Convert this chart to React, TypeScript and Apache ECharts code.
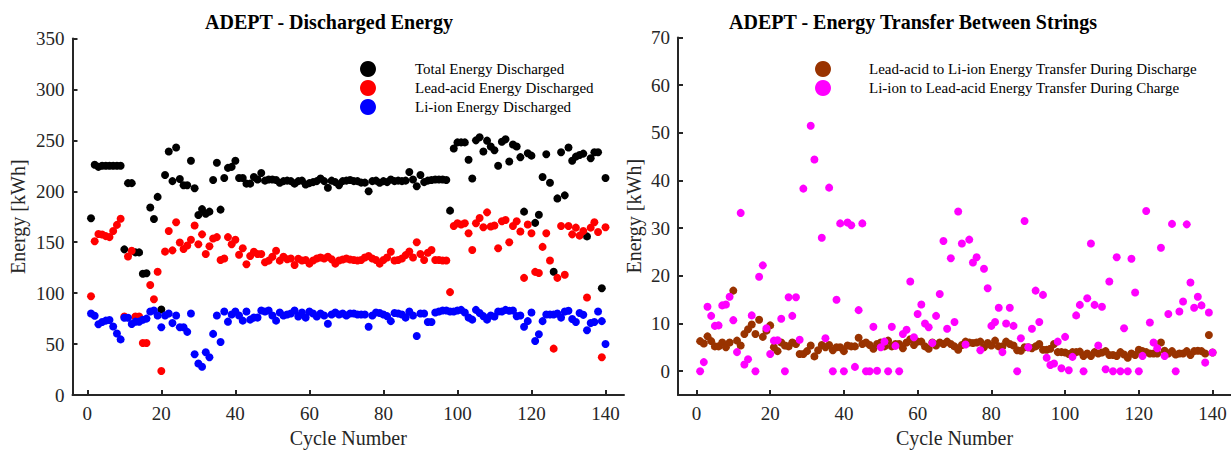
import React, { useEffect, useRef } from "react";
import * as echarts from "echarts";

// Cycle numbers 1..140
const cycles: number[] = Array.from({ length: 140 }, (_, i) => i + 1);

const totalEnergy: (number | null)[] = [
  173.5, 226, 224, 225, 225, 225, 225, 225, 225, 143,
  208, 208, 140, 140, 119, 119.5, 184, 172.8, 194.5, 84,
  216, 239, 210, 243, 212, 206, 206, 230, 203, 176.7,
  182.5, 178, 180, 211, 228, 182, 213, 223, 224, 230,
  213, 213, 207.5, 207.5, 214, 211.5, 218, 210.5, 211.5, 211.5,
  211, 208.3, 210, 210.5, 210, 207.5, 210, 210.5, 206.6, 208,
  209, 210, 212.5, 210, 203.5, 210.5, 209, 206, 210, 210.5,
  211, 210, 210, 208.5, 208.5, 200, 210, 210.5, 208.3, 210,
  209, 211.5, 210, 210.5, 210, 210.5, 219, 211.5, 205, 216,
  209, 210.5, 211, 211.5, 211.5, 211.5, 211, 181, 242, 248,
  248, 248, 231, 212.5, 250, 253, 239, 249.7, 244, 240.3,
  225, 248.6, 251, 229.3, 246, 244, 233.5, 180, 237.3, 235,
  169, 177, 214, 236.3, 208.3, 121, 193, 238.3, 196, 243,
  230, 234, 235.7, 237, 155.7, 232.5, 238.3, 238.3, 104.8, 213,
];

const leadAcidEnergy: (number | null)[] = [
  97, 151, 158, 157.5, 156, 155, 161, 167, 173, 77,
  136, 141.6, 77, 77, 51, 51, 108, 94, 121, 23.6,
  140.8, 161, 142, 169.6, 149.7, 143.4, 146.7, 152.5, 166.4, 148,
  157.7, 138.5, 146, 153.6, 155, 132.5, 134, 155, 148, 152.5,
  137.7, 144, 128.3, 136.4, 140.6, 138.4, 138.4, 130.3, 131.9, 135.8,
  141.6, 131.9, 135.8, 133.2, 134, 127.6, 133.8, 132, 132.5, 129,
  132, 134, 135, 134, 135.8, 133.2, 129, 132, 133, 134,
  133, 132.5, 132, 132.5, 135, 136.4, 134, 132.5, 129, 132.5,
  135, 140.6, 132, 132.5, 134, 137.3, 140.8, 135, 150, 138.4,
  132.5, 139.7, 142.3, 132.5, 132.5, 132, 132, 101, 166, 168.6,
  167.4, 168.6, 158.8, 142.3, 168.6, 173.8, 164.7, 179.3, 165.4, 166.4,
  144, 170.5, 171.8, 150, 166, 170.5, 160.5, 115, 167.4, 158.8,
  120.9, 119.7, 145.4, 158.8, 132, 45.5, 115, 166, 118, 166,
  157.7, 164.3, 156.5, 161, 95.7, 164.3, 169.6, 160, 37, 164.7,
];

const liIonEnergy: (number | null)[] = [
  80, 77.8, 69.4, 71.6, 73, 73.7, 67.3, 60.4, 54.6, 75.8,
  75.8, 69.7, 72, 72, 73.8, 75, 82, 83, 78, 66.5,
  78, 80, 70.6, 78, 66.5, 66.5, 62, 80, 40, 31,
  27.8, 42, 37, 60, 78, 52, 82, 72, 79, 82,
  78, 73, 82, 74, 76, 76, 83, 82, 83, 78,
  73, 81, 78, 79, 80, 83, 77, 81, 76, 82,
  80, 77, 80, 78, 70, 79, 81, 79, 80, 78,
  80, 80, 79, 79, 79, 67, 78, 81, 80.5, 79,
  77.4, 72.5, 80.5, 80, 79, 76, 82, 78, 58, 80,
  80, 71.7, 71.7, 81, 82, 83, 83, 82, 82, 83,
  83.6, 81, 76, 74, 83.6, 80.5, 77.4, 74, 78, 77,
  82, 82, 83.6, 82.7, 83, 77.4, 78, 67, 72.5, 81,
  53, 59.6, 72.5, 79, 79, 79, 80, 76, 82, 82.7,
  74.6, 71.6, 80.5, 78.7, 63.5, 70.6, 71.6, 82, 72.5, 50,
];

const leadToLiTransfer: (number | null)[] = [
  6.3, 5.8, 7.3, 6.3, 5.2, 5.2, 6.0, 5.0, 6.0, 16.9,
  6.4, 5.4, 7.8, 8.8, 9.8, 7.8, 10.8, 7.2, 8.5, 9.6,
  5.0, 4.2, 6.0, 5.4, 5.2, 6.0, 5.7, 3.6, 3.6, 4.2,
  5.4, 3.1, 4.4, 5.5, 5.0, 5.5, 4.4, 5.0, 5.0, 4.2,
  5.4, 5.2, 5.2, 7.0, 5.7, 6.0, 5.5, 4.7, 5.7, 6.0,
  5.2, 6.4, 5.2, 5.7, 5.7, 4.8, 6.0, 6.7, 5.5, 6.2,
  6.2, 5.2, 4.7, 6.0, 5.4, 6.0, 5.7, 6.2, 5.7, 5.2,
  4.5, 5.5, 6.2, 6.0, 5.9, 6.0, 6.2, 5.0, 5.9, 5.4,
  6.4, 5.2, 5.2, 6.2, 5.7, 5.4, 4.4, 4.3, 5.0, 5.0,
  4.8, 5.2, 5.7, 4.5, 4.5, 4.7, 5.7, 4.0, 4.0, 3.9,
  3.6, 4.0, 4.0, 4.1, 3.2, 3.7, 3.2, 4.0, 3.7, 3.9,
  4.2, 3.4, 3.4, 3.2, 4.0, 3.5, 2.8, 3.7, 3.4, 4.5,
  4.2, 4.0, 3.7, 3.7, 3.7, 6.0, 4.3, 3.7, 4.2, 3.5,
  3.7, 3.7, 4.2, 3.4, 4.2, 4.3, 4.2, 3.7, 7.6, 3.9,
];

const liToLeadTransfer: (number | null)[] = [
  0, 1.9, 13.5, 11.6, 9.5, 9.6, 13.8, 14.0, 15.6, 10.7,
  4.0, 33.2, 1.4, 2.5, 11.7, 0, 19.8, 22.2, 9.0, 3.6,
  6.4, 6.5, 11.0, 0, 15.5, 11.6, 15.5, 6.6, 38.3, null,
  51.5, 44.4, null, 28.0, 6.9, 38.5, 0, 15.0, 31.0, 0,
  31.2, 30.6, 0.9, 12.8, 31.0, 0, 0, 9.3, 0.1, 5.0,
  6.2, 0, 9.3, 5.3, 0, 7.8, 8.7, 18.8, 7.1, 12.0,
  14.0, 10.0, 9.2, 5.9, 11.6, 16.2, 27.3, 8.9, 23.7, 10.3,
  33.5, 26.8, 5.6, 27.6, 22.8, 23.9, 4.4, 21.5, 17.4, 9.5,
  10.3, 13.3, 4.0, 10.0, 13.3, 9.5, 0, 6.9, 31.5, 5.0,
  8.9, 16.9, 10.3, 16.0, 2.8, 1.3, 1.6, 6.2, 0.6, 7.2,
  0.2, 3.0, 11.7, 13.9, 0, 15.3, 26.8, 13.9, 5.4, 13.5,
  0.4, 18.8, 0, 23.9, 0, 9.0, 0, 23.6, 16.5, 0,
  3.2, 33.6, 10.2, 6.0, 4.8, 25.9, 3.2, 12.0, 30.9, 0,
  12.5, 14.6, 30.8, 18.6, 13.3, 15.6, 13.8, 1.8, 12.3, 3.9,
];

const xTicks = [0, 20, 40, 60, 80, 100, 120, 140];
const leftYTicks = [0, 50, 100, 150, 200, 250, 300, 350];
const rightYTicks = [0, 10, 20, 30, 40, 50, 60, 70];

const leftTitle = "ADEPT - Discharged Energy";
const rightTitle = "ADEPT - Energy Transfer Between Strings";
const leftNames = ["Total Energy Discharged", "Lead-acid Energy Discharged", "Li-ion Energy Discharged"];
const rightNames = [
  "Lead-acid to Li-ion Energy Transfer During Discharge",
  "Li-ion to Lead-acid Energy Transfer During Charge",
];

export default function App() {
  const ref = useRef<HTMLDivElement>(null);

  useEffect(() => {
    if (!ref.current) return;
    const chart = echarts.init(ref.current, null, { renderer: "svg" });
    const font = "Liberation Serif";
    const axisColor = "#262626";

    const pairs = (vals: (number | null)[]) =>
      cycles.map((c, i) => [c, vals[i]]).filter((p) => p[1] !== null);

    const axisCommon = (ticks: number[], margin: number) => ({
      type: "value" as const,
      axisLine: { show: true, onZero: false, lineStyle: { color: axisColor, width: 2 } },
      axisTick: { show: true, inside: true, length: 5, customValues: ticks, lineStyle: { color: axisColor, width: 2 } },
      axisLabel: { customValues: ticks, color: axisColor, fontFamily: font, fontSize: 19, margin },
      splitLine: { show: false },
      nameLocation: "middle" as const,
      nameTextStyle: { color: axisColor, fontFamily: font, fontSize: 20 },
    });

    const scatter = (name: string, vals: (number | null)[], color: string, idx: number) => ({
      type: "scatter" as const,
      name,
      data: pairs(vals),
      xAxisIndex: idx,
      yAxisIndex: idx,
      symbol: "circle",
      symbolSize: 8,
      itemStyle: { color, opacity: 1 },
    });

    const titleStyle = { fontFamily: font, fontSize: 20, fontWeight: "bold" as const, color: "#000" };
    const legendText = { fontFamily: font, fontSize: 15, color: "#000" };

    chart.setOption({
      animation: false,
      backgroundColor: "#ffffff",
      title: [
        { text: leftTitle, left: 324, textAlign: "center", top: 7, textStyle: titleStyle },
        { text: rightTitle, left: 908, textAlign: "center", top: 7, textStyle: titleStyle },
      ],
      legend: [
        {
          data: leftNames,
          orient: "vertical",
          left: 360,
          top: 61,
          padding: 0,
          itemWidth: 16,
          itemHeight: 16,
          itemGap: 3,
          icon: "circle",
          textStyle: { ...legendText, padding: [0, 0, 0, 34] },
        },
        {
          data: rightNames,
          orient: "vertical",
          left: 815,
          top: 61,
          padding: 0,
          itemWidth: 16,
          itemHeight: 16,
          itemGap: 3,
          icon: "circle",
          textStyle: { ...legendText, padding: [0, 0, 0, 33] },
        },
      ],
      grid: [
        { left: 72.5, top: 38.5, width: 551.5, height: 362 },
        { left: 678, top: 37.5, width: 555, height: 363 },
      ],
      xAxis: [
        { ...axisCommon(xTicks, 9), gridIndex: 0, min: -4, max: 145, name: "Cycle Number", nameGap: 33 },
        { ...axisCommon(xTicks, 9), gridIndex: 1, min: -5, max: 145, name: "Cycle Number", nameGap: 33 },
      ],
      yAxis: [
        { ...axisCommon(leftYTicks, 8), gridIndex: 0, min: 0, max: 350, name: "Energy [kWh]", nameGap: 45 },
        { ...axisCommon(rightYTicks, 8), gridIndex: 1, min: -5, max: 70, name: "Energy [kWh]", nameGap: 34 },
      ],
      series: [
        scatter(leftNames[0], totalEnergy, "#000000", 0),
        scatter(leftNames[1], leadAcidEnergy, "#ff0000", 0),
        scatter(leftNames[2], liIonEnergy, "#0000ff", 0),
        scatter(rightNames[0], leadToLiTransfer, "#993300", 1),
        scatter(rightNames[1], liToLeadTransfer, "#ff00ff", 1),
      ],
    });

    return () => chart.dispose();
  }, []);

  return (
    <div
      ref={ref}
      style={{ position: "fixed", left: 0, top: 0, width: 1231, height: 453, background: "#fff" }}
    />
  );
}
